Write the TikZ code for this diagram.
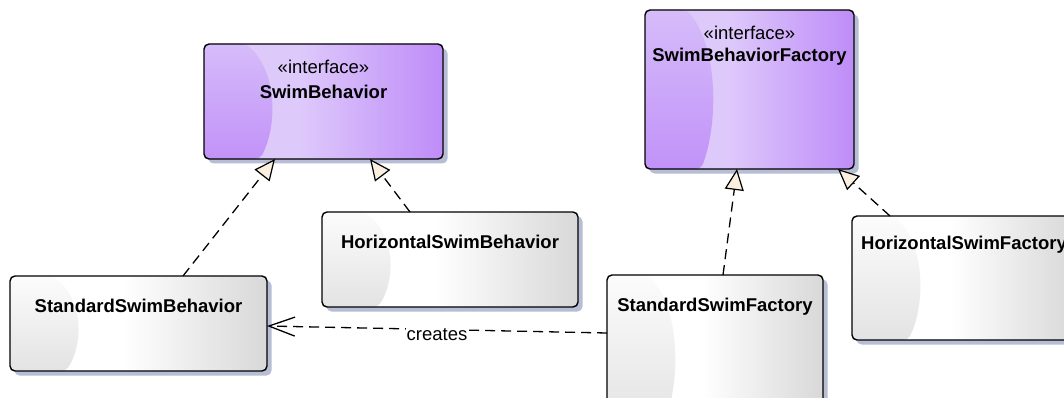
\documentclass[tikz,border=0pt]{standalone}
\usepackage{fontspec}
\setmainfont{Liberation Sans}
\usetikzlibrary{arrows.meta,shadows,calc}

\definecolor{shadowc}{HTML}{B6BDD4}
\definecolor{ifaceA}{HTML}{DEC9FB}
\definecolor{ifaceC}{HTML}{BE8CF8}
\definecolor{ifaceTop}{HTML}{D6BCFA}
\definecolor{ifaceBot}{HTML}{C192F8}
\definecolor{clsC}{HTML}{D8D8D8}
\definecolor{clsTop}{HTML}{FCFCFC}
\definecolor{clsBot}{HTML}{E3E3E3}
\definecolor{tipfill}{HTML}{FBF0E0}

% left-to-right body fills (the path box maps onto 25bp..75bp)
\pgfdeclarehorizontalshading{ifaceshade}{100bp}{color(0bp)=(ifaceA); color(25bp)=(ifaceA); color(45bp)=(ifaceA); color(75bp)=(ifaceC); color(100bp)=(ifaceC)}
\pgfdeclarehorizontalshading{clsshade}{100bp}{color(0bp)=(white); color(25bp)=(white); color(47bp)=(white); color(75bp)=(clsC); color(100bp)=(clsC)}

% curved glow on the left side of each box
\newcommand\leftglow[2]{%
  \path[top color=#1, bottom color=#2]
    (path picture bounding box.north west) -- ([xshift=42pt]path picture bounding box.north west)
    .. controls ($([xshift=74pt]path picture bounding box.north west)!0.25!([xshift=74pt]path picture bounding box.south west)$)
       and ($([xshift=73pt]path picture bounding box.north west)!0.72!([xshift=73pt]path picture bounding box.south west)$)
    .. ([xshift=56pt]path picture bounding box.south west) -- (path picture bounding box.south west) -- cycle;}

\tikzset{
  umlbox/.style={draw=black, line width=1.4pt, rounded corners=5pt, outer sep=0pt, inner sep=0pt,
    general shadow={fill=shadowc, shadow xshift=4.5pt, shadow yshift=-4.5pt}},
  iface/.style={umlbox, shade, shading=ifaceshade, path picture={\leftglow{ifaceTop}{ifaceBot}}},
  cls/.style={umlbox, shade, shading=clsshade, path picture={\leftglow{clsTop}{clsBot}}},
  stereo/.style={inner sep=0pt, font=\fontsize{18.5}{22}\selectfont},
  cname/.style={inner sep=0pt, font=\fontsize{18.5}{22}\selectfont\bfseries},
  realize/.style={line width=1.3pt, dash pattern=on 10pt off 6pt,
    -{Triangle[fill=tipfill, length=21pt, width=19pt, line width=1.2pt]}},
  dep/.style={line width=1.3pt, dash pattern=on 10pt off 6pt,
    -{Straight Barb[length=26pt, width=19pt, line width=1.3pt]}},
}

\begin{document}
\begin{tikzpicture}[x=1pt, y=-1pt]
\useasboundingbox (0,0) rectangle (1064,398);
\clip (0,0) rectangle (1064,398);
\fill[white] (0,0) rectangle (1064,398);

% interfaces
\node[iface, minimum width=239pt, minimum height=115pt] (sb) at (323.5,101.5) {};
\node[stereo] (sbS) at ([yshift=-23pt]sb.north) {«interface»};
\node[cname]  (sbN) at ([yshift=-48pt]sb.north) {SwimBehavior};

\node[iface, minimum width=209pt, minimum height=159pt] (sbf) at (749.5,89.5) {};
\node[stereo] (sbfS) at ([yshift=-23pt]sbf.north) {«interface»};
\node[cname]  (sbfN) at ([yshift=-47pt]sbf.north) {SwimBehaviorFactory};

% classes
\node[cls, minimum width=257pt, minimum height=95pt] (ssb) at (138.5,323.5) {};
\node[cname] (ssbN) at ([yshift=-30pt]ssb.north) {StandardSwimBehavior};

\node[cls, minimum width=256pt, minimum height=95pt] (hsb) at (450,259.5) {};
\node[cname] (hsbN) at ([yshift=-30pt]hsb.north) {HorizontalSwimBehavior};

\node[cls, minimum width=216pt, minimum height=150pt] (ssf) at (715,350) {};
\node[cname] (ssfN) at ([yshift=-32pt]ssf.north) {StandardSwimFactory};

\node[cls, minimum width=223pt, minimum height=124pt] (hsf) at (963.5,278) {};
\node[cname, anchor=west] (hsfN) at ([xshift=9pt, yshift=-29pt]hsf.north west) {HorizontalSwimFactory};

% realizations
\draw[realize] ([xshift=44.5pt]ssb.north) -- ([xshift=-48.5pt]sb.south);
\draw[realize] ([xshift=-40pt]hsb.north) -- ([xshift=46.5pt]sb.south);
\draw[realize] ([xshift=8pt]ssf.north) -- ([xshift=-12.5pt]sbf.south);
\draw[realize] ([xshift=-73.5pt]hsf.north) -- ([xshift=88.5pt]sbf.south);

% dependency
\draw[dep] ([yshift=17pt]ssf.west) -- node[pos=0.5, yshift=-5pt, fill=white, inner sep=1pt, font=\fontsize{18.5}{22}\selectfont] (lbl) {creates} ([yshift=-2.5pt]ssb.east);
\end{tikzpicture}
\end{document}
